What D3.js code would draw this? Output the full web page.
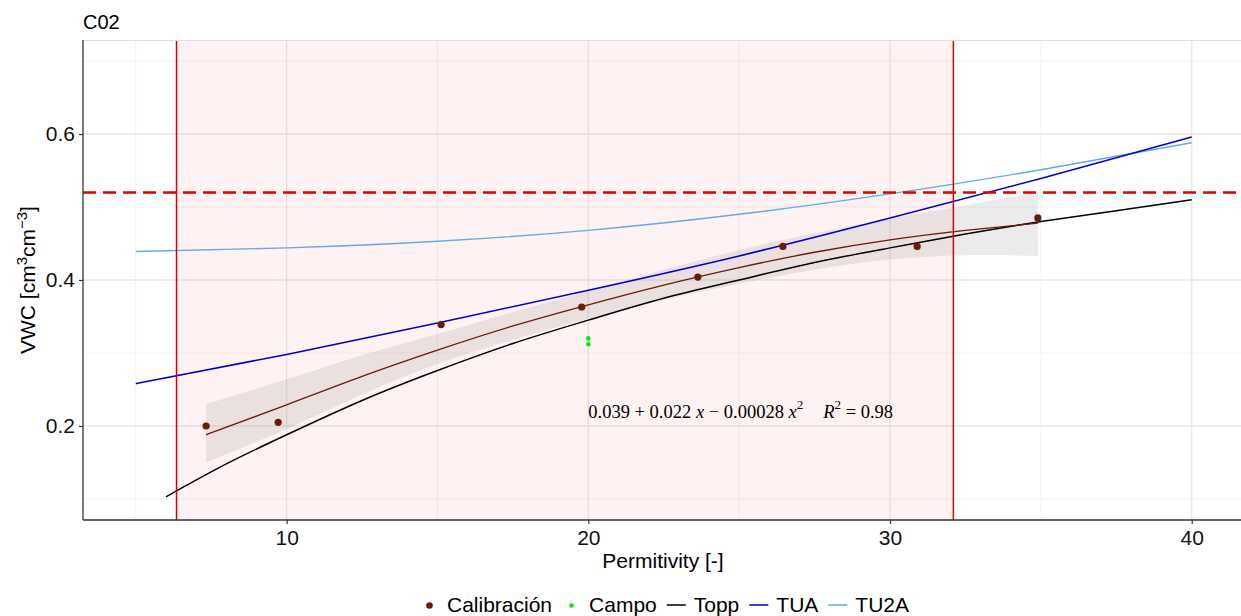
<!DOCTYPE html>
<html>
<head>
<meta charset="utf-8">
<script src="https://cdn.jsdelivr.net/npm/d3@7"></script>
<style>
  body { margin: 0; background: #fff; }
  svg { display: block; font-family: "Liberation Sans", Arial, sans-serif; }
</style>
</head>
<body>
<svg id="chart" width="1241" height="616"></svg>
<script>
// calibration points (Calibración)
const calEps = [7.33, 9.72, 15.12, 19.78, 23.63, 26.45, 30.9, 34.9];
const calVwc = [0.200, 0.205, 0.339, 0.363, 0.404, 0.446, 0.446, 0.485];

// field points (Campo)
const campoEps = [20, 20];
const campoVwc = [0.320, 0.312];

// Topp curve
const toppEps = [6, 8, 10, 12.5, 15, 17.5, 20, 22.5, 25, 27.5, 30, 32.5, 35, 37.5, 40];
const toppVwc = [0.103, 0.148, 0.188, 0.235, 0.276, 0.313, 0.345, 0.375, 0.400, 0.424, 0.444, 0.463, 0.480, 0.495, 0.510];

// TUA and TU2A curves
const tuEps = [5, 10, 15, 20, 25, 30, 35, 40];
const tuaVwc = [0.258, 0.298, 0.341, 0.386, 0.433, 0.485, 0.539, 0.596];
const tu2aVwc = [0.439, 0.444, 0.453, 0.468, 0.490, 0.518, 0.551, 0.588];

// quadratic fit with its confidence band
const fitEps = [7.33, 10, 12.5, 15, 17.5, 20, 22.5, 25, 27.5, 30, 32.5, 34.9];
const fitVwc = [0.188, 0.229, 0.268, 0.304, 0.337, 0.366, 0.393, 0.417, 0.438, 0.455, 0.468, 0.478];
const fitLow = [0.150, 0.196, 0.243, 0.285, 0.318, 0.347, 0.373, 0.395, 0.414, 0.428, 0.434, 0.433];
const fitHigh = [0.230, 0.264, 0.297, 0.326, 0.356, 0.385, 0.414, 0.441, 0.464, 0.484, 0.502, 0.521];

// reference lines
const rangeEps = [6.35, 32.1];
const saturation = 0.52;

const xMajor = [10, 20, 30, 40];
const xMinor = [5, 15, 25, 35];
const yMajor = [0.2, 0.4, 0.6];
const yMinor = [0.1, 0.3, 0.5, 0.7];

const legendItems = [
  { label: 'Calibración', type: 'point', color: '#6B1A05' },
  { label: 'Campo', type: 'point', color: '#00EE00' },
  { label: 'Topp', type: 'line', color: '#000000' },
  { label: 'TUA', type: 'line', color: '#0000CD' },
  { label: 'TU2A', type: 'line', color: '#5CACEE' }
];

function drawChart() {
  var svg = d3.select('#chart');
  var pLeft = 83, pTop = 40, pBottom = 520, pRight = 1244.5;

  var x = d3.scaleLinear().domain([3.25, 41.75]).range([pLeft, pRight]);
  var y = d3.scaleLinear().domain([0.0712, 0.7288]).range([pBottom, pTop]);

  svg.append('defs').append('clipPath').attr('id', 'panel')
    .append('rect')
    .attr('x', pLeft).attr('y', pTop)
    .attr('width', pRight - pLeft).attr('height', pBottom - pTop);

  var panel = svg.append('g').attr('clip-path', 'url(#panel)');

  // grid
  panel.selectAll('.xminor').data(xMinor).enter().append('line')
    .attr('x1', d => x(d)).attr('x2', d => x(d))
    .attr('y1', pTop).attr('y2', pBottom)
    .attr('stroke', '#f2f2f2').attr('stroke-width', 1);
  panel.selectAll('.yminor').data(yMinor).enter().append('line')
    .attr('x1', pLeft).attr('x2', pRight)
    .attr('y1', d => y(d)).attr('y2', d => y(d))
    .attr('stroke', '#f2f2f2').attr('stroke-width', 1);
  panel.selectAll('.xmajor').data(xMajor).enter().append('line')
    .attr('x1', d => x(d)).attr('x2', d => x(d))
    .attr('y1', pTop).attr('y2', pBottom)
    .attr('stroke', '#e8e8e8').attr('stroke-width', 1.3);
  panel.selectAll('.ymajor').data(yMajor).enter().append('line')
    .attr('x1', pLeft).attr('x2', pRight)
    .attr('y1', d => y(d)).attr('y2', d => y(d))
    .attr('stroke', '#e8e8e8').attr('stroke-width', 1.3);

  // top border
  svg.append('line')
    .attr('x1', pLeft).attr('x2', pRight).attr('y1', pTop + 0.5).attr('y2', pTop + 0.5)
    .attr('stroke', '#e0e0e0').attr('stroke-width', 1);

  // shaded calibration range
  panel.append('rect')
    .attr('x', x(rangeEps[0])).attr('y', pTop)
    .attr('width', x(rangeEps[1]) - x(rangeEps[0]))
    .attr('height', pBottom - pTop)
    .attr('fill', 'red').attr('fill-opacity', 0.05);

  // confidence band
  var band = d3.area()
    .x((d, i) => x(fitEps[i]))
    .y0((d, i) => y(fitLow[i]))
    .y1((d, i) => y(fitHigh[i]))
    .curve(d3.curveNatural);
  panel.append('path')
    .attr('d', band(fitEps))
    .attr('fill', '#999').attr('fill-opacity', 0.2);

  function curve(xs, ys) {
    return d3.line()
      .x((d, i) => x(xs[i]))
      .y((d, i) => y(ys[i]))
      .curve(d3.curveNatural)(xs);
  }

  panel.append('path').attr('d', curve(tuEps, tu2aVwc))
    .attr('fill', 'none').attr('stroke', '#5CACEE').attr('stroke-width', 1.4);
  panel.append('path').attr('d', curve(tuEps, tuaVwc))
    .attr('fill', 'none').attr('stroke', '#0000CD').attr('stroke-width', 1.6);
  panel.append('path').attr('d', curve(toppEps, toppVwc))
    .attr('fill', 'none').attr('stroke', '#000').attr('stroke-width', 1.5);
  panel.append('path').attr('d', curve(fitEps, fitVwc))
    .attr('fill', 'none').attr('stroke', '#6B1A05').attr('stroke-width', 1.3);

  // red reference lines
  panel.selectAll('.vref').data(rangeEps).enter().append('line')
    .attr('x1', d => x(d)).attr('x2', d => x(d))
    .attr('y1', pTop).attr('y2', pBottom)
    .attr('stroke', '#e00000').attr('stroke-width', 1.5);
  panel.append('line')
    .attr('x1', pLeft).attr('x2', pRight)
    .attr('y1', y(saturation)).attr('y2', y(saturation))
    .attr('stroke', '#e00000').attr('stroke-width', 2.5)
    .attr('stroke-dasharray', '13,7');

  // points
  panel.selectAll('.cal').data(calEps).enter().append('circle')
    .attr('cx', d => x(d)).attr('cy', (d, i) => y(calVwc[i]))
    .attr('r', 3.6).attr('fill', '#6B1A05');
  panel.selectAll('.campo').data(campoEps).enter().append('circle')
    .attr('cx', d => x(d)).attr('cy', (d, i) => y(campoVwc[i]))
    .attr('r', 2.3).attr('fill', '#00EE00');

  // equation label
  var eq = svg.append('text')
    .attr('x', x(20)).attr('y', 418)
    .attr('font-family', '"Liberation Serif", "Times New Roman", serif')
    .attr('font-size', 18.5)
    .attr('fill', '#000');
  eq.append('tspan').text('0.039 + 0.022 ');
  eq.append('tspan').attr('font-style', 'italic').text('x');
  eq.append('tspan').text(' \u2212 0.00028 ');
  eq.append('tspan').attr('font-style', 'italic').text('x');
  eq.append('tspan').attr('font-size', 13).attr('dy', -9).text('2');
  eq.append('tspan').attr('dy', 9).attr('dx', 20).attr('font-style', 'italic').text('R');
  eq.append('tspan').attr('font-size', 13).attr('dy', -9).text('2');
  eq.append('tspan').attr('dy', 9).text(' = 0.98');

  // axes
  var xAxis = svg.append('g')
    .attr('transform', 'translate(0,' + pBottom + ')')
    .call(d3.axisBottom(x).tickValues(xMajor).tickSize(4).tickPadding(6).tickFormat(d3.format('d')));
  var yAxis = svg.append('g')
    .attr('transform', 'translate(' + pLeft + ',0)')
    .call(d3.axisLeft(y).tickValues(yMajor).tickSize(4).tickPadding(4).tickFormat(d3.format('.1f')));
  [xAxis, yAxis].forEach(function(a) {
    a.select('.domain').attr('stroke', '#333').attr('stroke-width', 1.3);
    a.selectAll('.tick line').attr('stroke', '#333').attr('stroke-width', 1.2);
    a.selectAll('.tick text')
      .attr('font-family', '"Liberation Sans", Arial, sans-serif')
      .attr('font-size', 21).attr('fill', '#111');
  });
  // keep the axis lines to the panel only
  xAxis.select('.domain').attr('d', 'M' + pLeft + ',0H' + pRight);
  yAxis.select('.domain').attr('d', 'M0,' + pTop + 'V' + pBottom);

  // titles
  svg.append('text')
    .attr('x', pLeft).attr('y', 29)
    .attr('font-size', 20).attr('fill', '#000')
    .text('C02');

  svg.append('text')
    .attr('x', 663).attr('y', 568)
    .attr('text-anchor', 'middle')
    .attr('font-size', 21).attr('fill', '#000')
    .text('Permitivity [-]');

  var yt = svg.append('text')
    .attr('transform', 'translate(35,' + ((pTop + pBottom) / 2) + ') rotate(-90)')
    .attr('text-anchor', 'middle')
    .attr('font-size', 21).attr('fill', '#000');
  yt.append('tspan').text('VWC [cm');
  yt.append('tspan').attr('font-size', 15).attr('dy', -8).text('3');
  yt.append('tspan').attr('dy', 8).text('cm');
  yt.append('tspan').attr('font-size', 15).attr('dy', -8).text('\u22123');
  yt.append('tspan').attr('dy', 8).text(']');

  // legend
  var legend = svg.append('g');
  var keyW = 21, keyGap = 7, itemGap = 9;
  var cursor = 0;
  legendItems.forEach(function(item) {
    var g = legend.append('g').attr('transform', 'translate(' + cursor + ',0)');
    if (item.type === 'point') {
      g.append('circle').attr('cx', keyW / 2).attr('cy', -6.5)
        .attr('r', item.label === 'Campo' ? 2.3 : 3.3).attr('fill', item.color);
    } else {
      g.append('line').attr('x1', 1).attr('x2', keyW - 1)
        .attr('y1', -7).attr('y2', -7)
        .attr('stroke', item.color).attr('stroke-width', 1.5);
    }
    var t = g.append('text')
      .attr('x', keyW + keyGap).attr('y', 0)
      .attr('font-size', 21).attr('fill', '#000')
      .text(item.label);
    cursor += keyW + keyGap + t.node().getComputedTextLength() + itemGap;
  });
  var legendW = cursor - itemGap;
  legend.attr('transform', 'translate(' + (664 - legendW / 2) + ',612)');
}

drawChart();
</script>
</body>
</html>
